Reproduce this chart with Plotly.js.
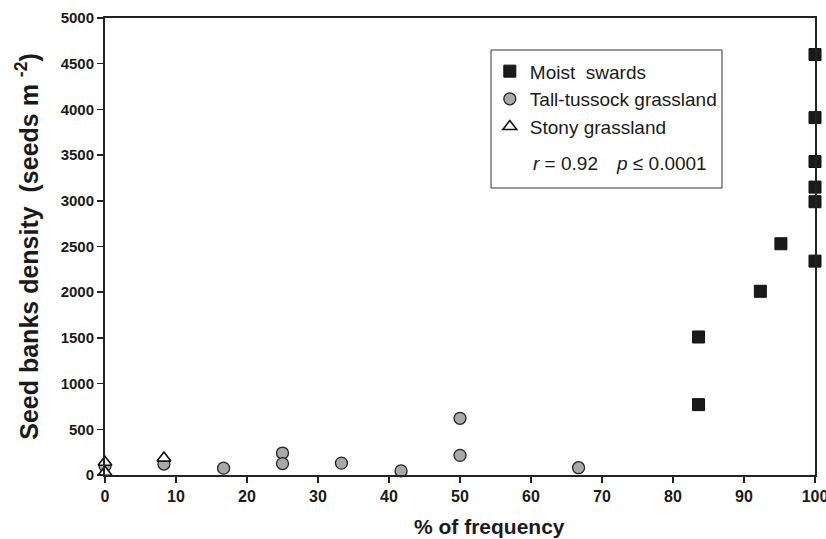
<!DOCTYPE html>
<html>
<head>
<meta charset="utf-8">
<script src="https://cdn.plot.ly/plotly-3.0.1.min.js"></script>
<style>html,body{margin:0;padding:0;background:#fff;}#chart{width:826px;height:539px;}</style>
</head>
<body>
<div id="chart"></div>
<script>
// Data
const moistX = [100, 100, 100, 100, 100, 100, 95.2, 92.3, 83.6, 83.6];
const moistY = [4600, 3910, 3430, 3150, 2990, 2340, 2530, 2010, 1510, 770];
const tallX = [0, 8.3, 16.7, 25, 25, 33.3, 41.7, 50, 50, 66.7];
const tallY = [100, 120, 75, 240, 125, 130, 45, 620, 215, 80];
const stonyX = [0, 0, 8.3];
const stonyY = [140, 30, 185];
const xTicks = [0, 10, 20, 30, 40, 50, 60, 70, 80, 90, 100];
const yTicks = [0, 500, 1000, 1500, 2000, 2500, 3000, 3500, 4000, 4500, 5000];

const FONT = 'Liberation Sans, Arial, sans-serif';

const traces = [
  {x: moistX, y: moistY, type: 'scatter', mode: 'markers', name: 'Moist  swards', legendgroup: 'a',
   marker: {symbol: 'square', size: 12, color: '#1a1a1a', line: {color: '#111', width: 1}}, cliponaxis: false},
  {x: tallX, y: tallY, type: 'scatter', mode: 'markers', name: 'Tall-tussock grassland', legendgroup: 'b',
   marker: {symbol: 'circle', size: 12, color: '#a9a9a9', line: {color: '#222', width: 1.3}}, cliponaxis: false},
  {x: stonyX, y: stonyY, type: 'scatter', mode: 'markers', name: 'Stony grassland', legendgroup: 'c',
   marker: {symbol: 'triangle-up', size: 12, color: '#ffffff', line: {color: '#111', width: 1.6}}, cliponaxis: false}
];

const layout = {
  width: 826, height: 539,
  margin: {l: 105, r: 11, t: 18, b: 64},
  paper_bgcolor: '#fff', plot_bgcolor: '#fff',
  showlegend: true,
  legend: {x: 0.542, y: 0.925, xanchor: 'left', yanchor: 'top', bgcolor: 'rgba(0,0,0,0)',
           font: {family: FONT, size: 19, color: '#1a1a1a'},
           traceorder: 'grouped', tracegroupgap: 0, itemwidth: 30},
  xaxis: {range: [0, 100], tickvals: xTicks, ticktext: xTicks.map(String), ticks: 'outside', ticklen: 6, tickwidth: 1.5,
          tickcolor: '#222', showline: true, linecolor: '#222', linewidth: 2, mirror: true, showgrid: false, zeroline: false,
          ticklabeloverflow: 'allow',
          tickfont: {family: FONT, size: 16, color: '#1a1a1a', weight: 'bold'}},
  yaxis: {range: [0, 5000], tickvals: yTicks, ticktext: yTicks.map(String), ticks: 'outside', ticklen: 6, tickwidth: 1.5,
          tickcolor: '#222', showline: true, linecolor: '#222', linewidth: 2, mirror: true, showgrid: false, zeroline: false,
          ticklabeloverflow: 'allow',
          tickfont: {family: FONT, size: 15, color: '#1a1a1a', weight: 'bold'},
          title: {text: 'Seed banks density  (seeds m <sup>-2</sup>)', font: {family: FONT, size: 25, color: '#1a1a1a', weight: 'bold'}, standoff: 15}},
  shapes: [
    {type: 'rect', xref: 'paper', yref: 'paper', x0: 0.5437, x1: 0.869, y0: 0.628, y1: 0.930,
     line: {color: '#333', width: 1}, fillcolor: 'rgba(0,0,0,0)'}
  ],
  annotations: [
    {xref: 'paper', yref: 'paper', x: 0.542, y: -0.112, xanchor: 'center', yanchor: 'middle', showarrow: false,
     text: '<b>% of frequency</b>', font: {family: FONT, size: 21, color: '#1a1a1a'}},
    {xref: 'paper', yref: 'paper', x: 0.600, y: 0.681, xanchor: 'left', yanchor: 'middle', showarrow: false,
     text: '<i>r</i> = 0.92', font: {family: FONT, size: 19, color: '#1a1a1a'}},
    {xref: 'paper', yref: 'paper', x: 0.85, y: 0.681, xanchor: 'right', yanchor: 'middle', showarrow: false,
     text: '<i>p</i> ≤ 0.0001', font: {family: FONT, size: 19, color: '#1a1a1a'}}
  ]
};

Plotly.newPlot('chart', traces, layout, {displayModeBar: false, staticPlot: true});
</script>
</body>
</html>
